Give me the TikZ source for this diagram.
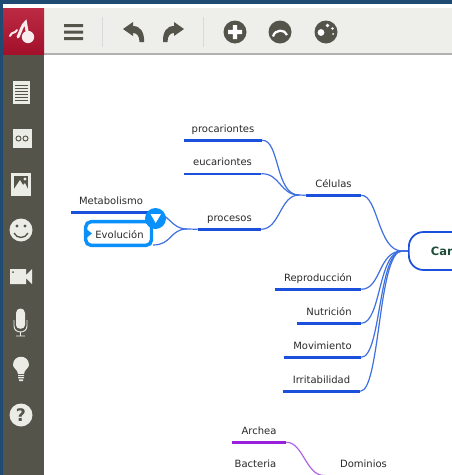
\documentclass[tikz,border=0pt]{standalone}
\usepackage{fontspec}
\usetikzlibrary{calc}
\setmainfont{DejaVu Sans}
\definecolor{navy}{HTML}{1F4A72}
\definecolor{bar}{HTML}{EEEEEA}
\definecolor{side}{HTML}{55544A}
\definecolor{ice}{HTML}{ECECE6}
\definecolor{crim}{HTML}{B4122F}
\definecolor{thickblue}{HTML}{1A50DC}
\definecolor{thinblue}{HTML}{3F70DF}
\definecolor{thickpurple}{HTML}{9A20DC}
\definecolor{thinpurple}{HTML}{B064E6}
\definecolor{selblue}{HTML}{0A90FA}
\definecolor{inktext}{HTML}{2A2A2A}
\definecolor{cgreen}{HTML}{1D4D3A}
\tikzset{
  x=0.75pt,y=-0.75pt,
  topic/.style={rectangle,inner sep=0pt,minimum height=18pt,text height=7.8pt,text depth=1.4pt,
    font=\fontsize{7.5}{9}\selectfont,text=inktext,minimum width=#1*0.75pt,
    append after command={(\tikzlastnode.south west) edge[line width=1.9pt,thickblue] (\tikzlastnode.south east)}},
  ptopic/.style={rectangle,inner sep=0pt,minimum height=18pt,text height=7.8pt,text depth=1.4pt,
    font=\fontsize{7.5}{9}\selectfont,text=inktext,minimum width=#1*0.75pt,
    append after command={(\tikzlastnode.south west) edge[line width=1.9pt,thickpurple] (\tikzlastnode.south east)}},
  link/.style={thinblue,line width=0.9pt},
  plink/.style={thinpurple,line width=0.9pt},
  barbg/.style={fill=bar,draw=none},
  icon/.style={fill=side,draw=none},
  sicon/.style={fill=ice,draw=none},
}
\begin{document}
\begin{tikzpicture}
\clip (0,0) rectangle (452,475);
\useasboundingbox (0,0) rectangle (452,475);
% window frame
\fill[white] (0,0) rectangle (452,475);
\fill[navy] (0,0) rectangle (452,4);
\fill[navy] (0,0) rectangle (3,475);
\fill[barbg] (3,8) rectangle (452,54);
\fill[black!30] (44,53.4) rectangle (452,54.6);
\fill[black!15] (102,17) rectangle (102.8,47);
\fill[black!15] (203,17) rectangle (203.8,47);
\fill[side] (3,54) rectangle (44,475);
\shade[top color=crim!90!white,bottom color=crim!90!black,draw=none] (3,8) rectangle (44,54);
% logo
\fill[white!92!crim] (28,37) circle[radius=6.2];
\draw[white!92!crim,line width=1.5pt,line cap=round] (10,36) .. controls (12,31) and (15,34) .. (17,30);
\draw[white!92!crim,line width=2.2pt,line cap=round] (18,37) .. controls (21,31) and (22,25) .. (25.5,22.5) -- (27,31);
% toolbar icons
\fill[icon] (64,24) rectangle (83,27) (64,30.5) rectangle (83,33.5) (64,37) rectangle (83,40);
\fill[icon] (123,29) -- (133,22) -- (133,26) .. controls (141,26) and (144.5,33) .. (144,42) -- (139.5,42) .. controls (139.5,36) and (137,33) .. (133,33) -- (133,36) -- cycle;
\fill[icon] (184,29) -- (174,22) -- (174,26) .. controls (166,26) and (162.5,33) .. (163,42) -- (167.5,42) .. controls (167.5,36) and (170,33) .. (174,33) -- (174,36) -- cycle;
\fill[icon] (235,32) circle[radius=11.5];
\fill[white] (232.8,25) rectangle (237.2,39) (228,29.8) rectangle (242,34.2);
\fill[icon] (280,32) circle[radius=11.5];
\draw[white,line width=1.7pt] (273,36.5) .. controls (275,29) and (285,29) .. (287,35);
\fill[icon] (326,32) circle[radius=11.5];
\fill[white] (321,32.5) circle[radius=3.4] (327.5,25.5) circle[radius=1.8] (332.5,28.5) circle[radius=1.3] (333,34) circle[radius=1];
% sidebar icons
\fill[sicon] (12.5,81) rectangle (30,104);
\foreach \yy in {85,88,91,94,97,100}{\fill[side] (15,\yy) rectangle (28,\yy+1.2);}
\fill[sicon] (12.5,128.5) rectangle (31.5,148);
\draw[side,line width=0.7pt] (18.5,138.5) circle[radius=2.5] (25.5,138.5) circle[radius=2.5];
\fill[sicon] (11,173) rectangle (31,196);
\fill[side] (14,176) rectangle (28,189);
\fill[sicon] (14,189) -- (20,180) -- (23,185) -- (25,183) -- (28,189) -- cycle (25,179) circle[radius=1.6];
\fill[sicon] (21,230) circle[radius=11.5];
\fill[side] (17,226) circle[radius=1.7] (25,226) circle[radius=1.7];
\draw[side,line width=1pt] (14,233) .. controls (17,239) and (25,239) .. (28,233);
\fill[sicon] (10,269) rectangle (26,284) (26,275) -- (32,269) -- (32,284) -- (26,278) -- cycle;
\fill[side] (13,272) circle[radius=1];
\fill[sicon] (16,316) -- (16,313) .. controls (16,307) and (25,307) .. (25,313) -- (25,325) .. controls (25,330) and (16,330) .. (16,325) -- cycle;
\draw[draw=ice,fill=none,line width=0.7pt] (14,320) -- (14,326) .. controls (14,334) and (27,334) .. (27,326) -- (27,320) (20.5,332) -- (20.5,336) (16,336) -- (25,336);
\fill[sicon] (18,374) .. controls (18,370) and (13,368) .. (13,365) .. controls (13,354) and (29,354) .. (29,365) .. controls (29,368) and (24,370) .. (24,374) -- cycle;
\fill[sicon] (18,375) rectangle (24,376.2) (18,377.2) rectangle (24,378.4) (19,379.4) rectangle (23,381);
\fill[sicon] (21,415) circle[radius=11.5];
\node[text=side,font=\fontsize{13}{13}\bfseries\selectfont,inner sep=0pt] (qmark) at (21,415) {?};
% mind map nodes
\node[topic=78] (procar) at (223,128) {procariontes};
\node[topic=77] (eucar) at (222.5,161.5) {eucariontes};
\node[topic=80] (metab) at (111,200) {Metabolismo};
\node[topic=63] (proces) at (229.5,217) {procesos};
\node[topic=55] (celulas) at (333.5,183) {Células};
\node[topic=86] (reprod) at (318,277) {Reproducción};
\node[topic=64] (nutri) at (329,311) {Nutrición};
\node[topic=77] (movim) at (322.5,345) {Movimiento};
\node[topic=77] (irrit) at (321.5,379) {Irritabilidad};
\node[ptopic=54] (archea) at (259,430) {Archea};
\node[ptopic=59] (bacteria) at (255.5,463.7) {Bacteria};
\node[ptopic=65] (dominios) at (363.5,463.7) {Dominios};
% central node
\node[draw=thickblue,line width=1.3pt,rounded corners=11pt,fill=white,minimum height=28.5pt,
  inner ysep=0pt,inner xsep=16.5pt,anchor=west,text width=90pt,align=left,font=\fontsize{8.6}{10}\bfseries\selectfont,text=cgreen] (central) at (408,251) {Car};
\coordinate (hub) at (402,251);
\coordinate (phub) at (324,475.5);
\coordinate (chub) at (299,195);
\coordinate (ehub) at (187,229);
% connectors
\draw[link] (celulas.south east) .. controls (378,195) and (378,251) .. (hub);
\foreach \n in {reprod,nutri,movim,irrit}{
  \draw[link] (\n.south east) .. controls ($(\n.south east)+(20,0)$) and (378,251) .. (hub);
}
\draw[link] (hub) -- (central.west);
\draw[link] (procar.south east) .. controls (280,140) and (275,195) .. (chub) -- (celulas.south west);
\draw[link] (eucar.south east) .. controls (280,173) and (280,195) .. (chub);
\draw[link] (proces.south east) .. controls (280,229) and (280,195) .. (chub);
\draw[link] (metab.south east) .. controls (170,212) and (170,229) .. (ehub) -- (proces.south west);
\coordinate (evoright) at (153,245);
\draw[link] (evoright) .. controls (172,245) and (170,229) .. (ehub);
\draw[plink] (archea.south east) .. controls (303,442) and (306,475.5) .. (phub) -- (dominios.south west);
% selected node
\draw[selblue,line width=2.6pt,fill=white,rounded corners=4pt] (85.7,221.7) rectangle (151.5,245.3);
\fill[selblue] (85,228) -- (92,233.5) -- (85,239) -- cycle;
\node[rectangle,inner sep=0pt,font=\fontsize{7.5}{9}\selectfont,text=inktext] (evol) at (119.5,234.5) {Evolución};
\fill[selblue] (155.5,218.5) circle[radius=10.5];
\fill[white] (150.5,214) -- (161,214) -- (155.7,223) -- cycle;
\end{tikzpicture}
\end{document}
